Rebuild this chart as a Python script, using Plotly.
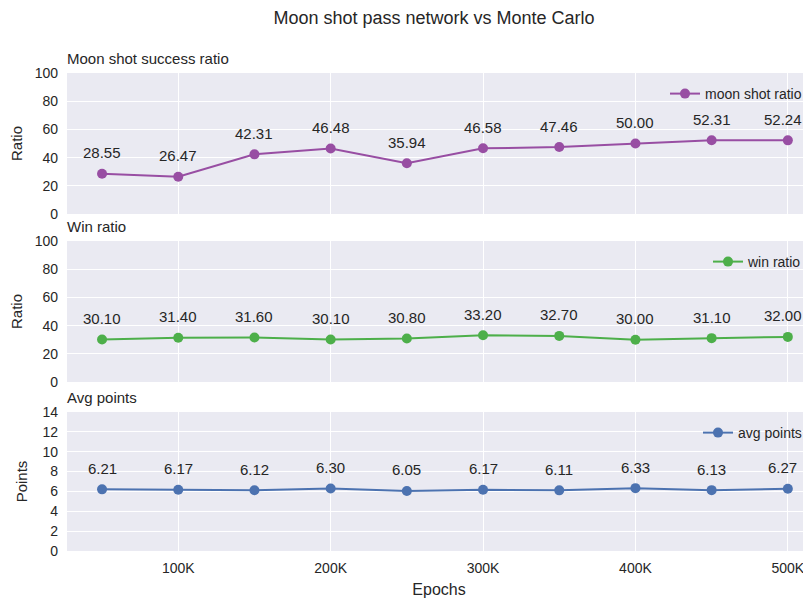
import plotly.graph_objects as go

epochs = [50000, 100000, 150000, 200000, 250000, 300000, 350000, 400000, 450000, 500000]
moon_shot = [28.55, 26.47, 42.31, 46.48, 35.94, 46.58, 47.46, 50.00, 52.31, 52.24]
win_ratio = [30.10, 31.40, 31.60, 30.10, 30.80, 33.20, 32.70, 30.00, 31.10, 32.00]
avg_points = [6.21, 6.17, 6.12, 6.30, 6.05, 6.17, 6.11, 6.33, 6.13, 6.27]
x_ticks = [100000, 200000, 300000, 400000, 500000]
x_labels = ["100K", "200K", "300K", "400K", "500K"]

# page has an 8px body margin, so the figure is drawn from (8, 8)
OFF = 8
W, H = 811 - OFF, 599 - OFF
FONT = "Liberation Sans, Arial, sans-serif"
TXT = "#262626"
BG = "#eaeaf2"

# panel pixel boxes (top, bottom) in page coords
panels = [
    dict(y=moon_shot, name="moon shot ratio", color="#984ea3", title="Moon shot success ratio",
         ytitle="Ratio", top=73, bot=214, yr=[0, 100], dt=20),
    dict(y=win_ratio, name="win ratio", color="#4daf4a", title="Win ratio",
         ytitle="Ratio", top=241, bot=382, yr=[0, 100], dt=20),
    dict(y=avg_points, name="avg points", color="#4c72b0", title="Avg points",
         ytitle="Points", top=412, bot=551, yr=[0, 14], dt=2),
]

x0 = (67 - OFF) / W
fig = go.Figure()
annotations = []
for i, p in enumerate(panels, start=1):
    sfx = "" if i == 1 else str(i)
    leg = "legend" if i == 1 else f"legend{i}"
    fig.add_trace(go.Scatter(
        x=epochs, y=p["y"], mode="lines+markers", name=p["name"],
        line=dict(color=p["color"], width=2), marker=dict(size=10, color=p["color"]),
        xaxis="x" + sfx, yaxis="y" + sfx, legend=leg, showlegend=True))
    d0, d1 = 1 - (p["bot"] - OFF) / H, 1 - (p["top"] - OFF) / H
    fig.layout["yaxis" + sfx] = dict(
        domain=[d0, d1], range=p["yr"], dtick=p["dt"], tick0=0, anchor="x" + sfx,
        gridcolor="white", gridwidth=1, zeroline=False, showline=False, ticks="",
        ticklabelstandoff=8,
        tickfont=dict(size=14, color=TXT, family=FONT), automargin=False,
        title=dict(text=p["ytitle"], font=dict(size=15, color=TXT, family=FONT), standoff=11))
    fig.layout["xaxis" + sfx] = dict(
        domain=[x0, 1], range=[27000, 515200], anchor="y" + sfx,
        tickvals=x_ticks, ticktext=x_labels if i == 3 else [""] * 5,
        showticklabels=(i == 3), gridcolor="white", gridwidth=1, zeroline=False,
        showline=False, ticks="", automargin=False, ticklabelstandoff=7,
        tickfont=dict(size=14, color=TXT, family=FONT),
        title=dict(text="Epochs", font=dict(size=16, color=TXT, family=FONT), standoff=8) if i == 3 else None)
    fig.layout[leg] = dict(
        x=1 - 4 / W, y=d1 - 5 / H, xanchor="right", yanchor="top", bgcolor="rgba(0,0,0,0)",
        font=dict(size=14, color=TXT, family=FONT), itemwidth=30)
    annotations.append(dict(
        text=p["title"], xref="paper", yref="paper", x=x0, y=d1 + 4 / H,
        xanchor="left", yanchor="bottom", showarrow=False, xshift=-2,
        font=dict(size=15, color=TXT, family=FONT)))
    for k, (xv, yv) in enumerate(zip(epochs, p["y"])):
        last = k == len(epochs) - 1
        annotations.append(dict(
            text=f"{yv:.2f}", x=xv, y=yv, xref="x" + sfx, yref="y" + sfx,
            showarrow=False, yanchor="middle", yshift=21, xshift=-5 if last else 0,
            font=dict(size=15, color=TXT, family=FONT)))

fig.update_layout(
    width=W, height=H, margin=dict(l=0, r=0, t=0, b=0),
    paper_bgcolor="white", plot_bgcolor=BG,
    title=dict(text="Moon shot pass network vs Monte Carlo", x=(434 - OFF) / W, xanchor="center",
               y=1 - (18 - OFF) / H, yanchor="middle", font=dict(size=18, color=TXT, family=FONT)),
    annotations=annotations,
    font=dict(family=FONT, color=TXT),
)

fig.write_html("out.html")
